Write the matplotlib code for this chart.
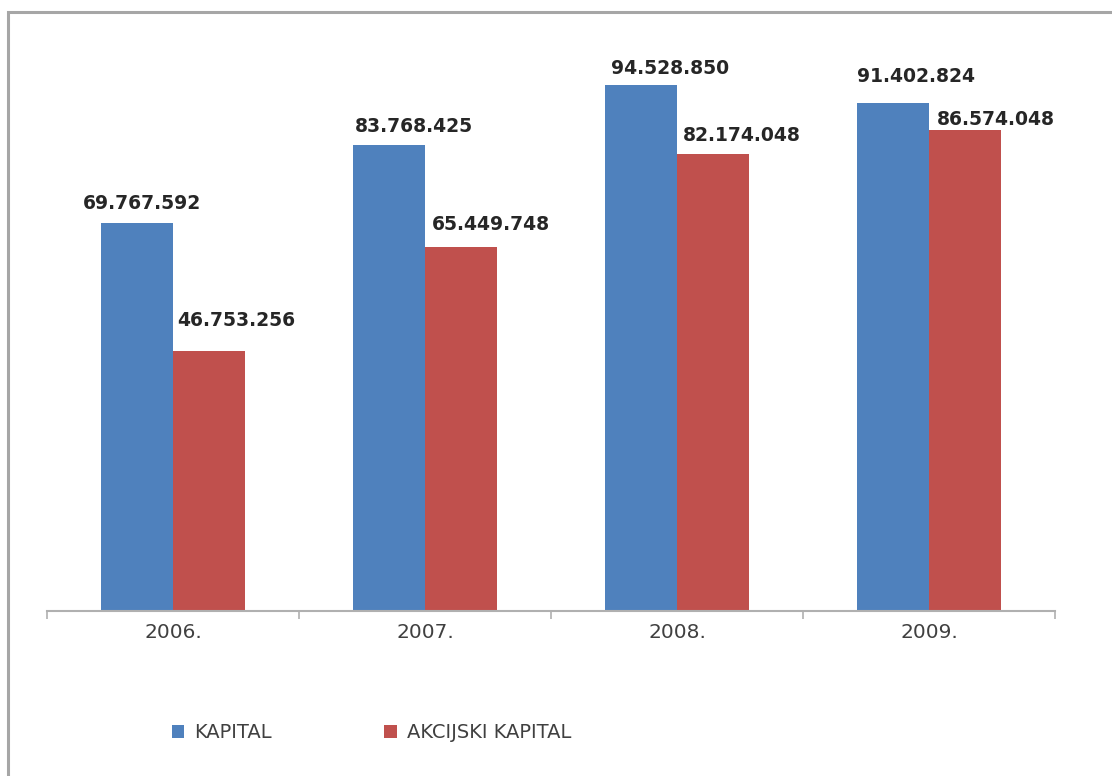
import numpy as np
import matplotlib.pyplot as plt
from matplotlib.patches import Rectangle, Patch

years = ['2006.', '2007.', '2008.', '2009.']
kapital = [69767592, 83768425, 94528850, 91402824]
akcijski = [46753256, 65449748, 82174048, 86574048]
kap_lbl = ['69.767.592', '83.768.425', '94.528.850', '91.402.824']
akc_lbl = ['46.753.256', '65.449.748', '82.174.048', '86.574.048']

blue = '#4F81BD'
red = '#C0504D'

fig = plt.figure(figsize=(11.12, 7.76), dpi=100)

# frame around the chart
fig.patches.append(Rectangle((8/1112, -0.05), 1.2, 1.05 - 12/776, transform=fig.transFigure,
                             fill=False, edgecolor='#A6A6A6', lw=2.2, zorder=0))

ax = fig.add_axes([47/1112, 165/776, 1008/1112, 556/776])
x = np.arange(len(years))
w = 0.2857
ax.bar(x - w/2, kapital, w, color=blue, zorder=2)
ax.bar(x + w/2, akcijski, w, color=red, zorder=2)

ax.set_xlim(-0.5, 3.5)
ax.set_ylim(0, 100e6)

# value labels (pixel offsets from bar top)
kdx = [5, 25, 29, 23]
kdy = [10, 9, 7, 17]
adx = [27, 30, 29, 31]
ady = [21, 13, 9, 1]
for i in range(len(years)):
    ax.annotate(kap_lbl[i], (x[i] - w/2, kapital[i]), xytext=(kdx[i], kdy[i]),
                textcoords='offset pixels', ha='center', va='bottom',
                fontsize=13.5, fontweight='bold', color='#262626')
    ax.annotate(akc_lbl[i], (x[i] + w/2, akcijski[i]), xytext=(adx[i], ady[i]),
                textcoords='offset pixels', ha='center', va='bottom',
                fontsize=13.5, fontweight='bold', color='#262626')

for s in ['top', 'right', 'left']:
    ax.spines[s].set_visible(False)
ax.spines['bottom'].set_color('#B0B0B0')
ax.spines['bottom'].set_linewidth(1.5)
ax.set_yticks([])
ax.set_xticks(x)
ax.set_xticklabels(years, fontsize=14.5, color='#404040')
ax.tick_params(axis='x', which='major', length=0, pad=9)
ax.set_xticks(np.arange(-0.5, 4, 1), minor=True)
ax.tick_params(axis='x', which='minor', length=6, color='#B0B0B0', width=1.2)

handles = [Patch(facecolor=blue), Patch(facecolor=red)]
fig.legend(handles, ['KAPITAL', 'AKCIJSKI KAPITAL'], ncol=2, frameon=False,
           loc='center left', bbox_to_anchor=(154/1112, 1 - 733/776),
           fontsize=14, labelcolor='#404040', handlelength=0.65, handleheight=0.65,
           handletextpad=0.5, columnspacing=5.8)

fig.savefig('out.png', dpi=100)
